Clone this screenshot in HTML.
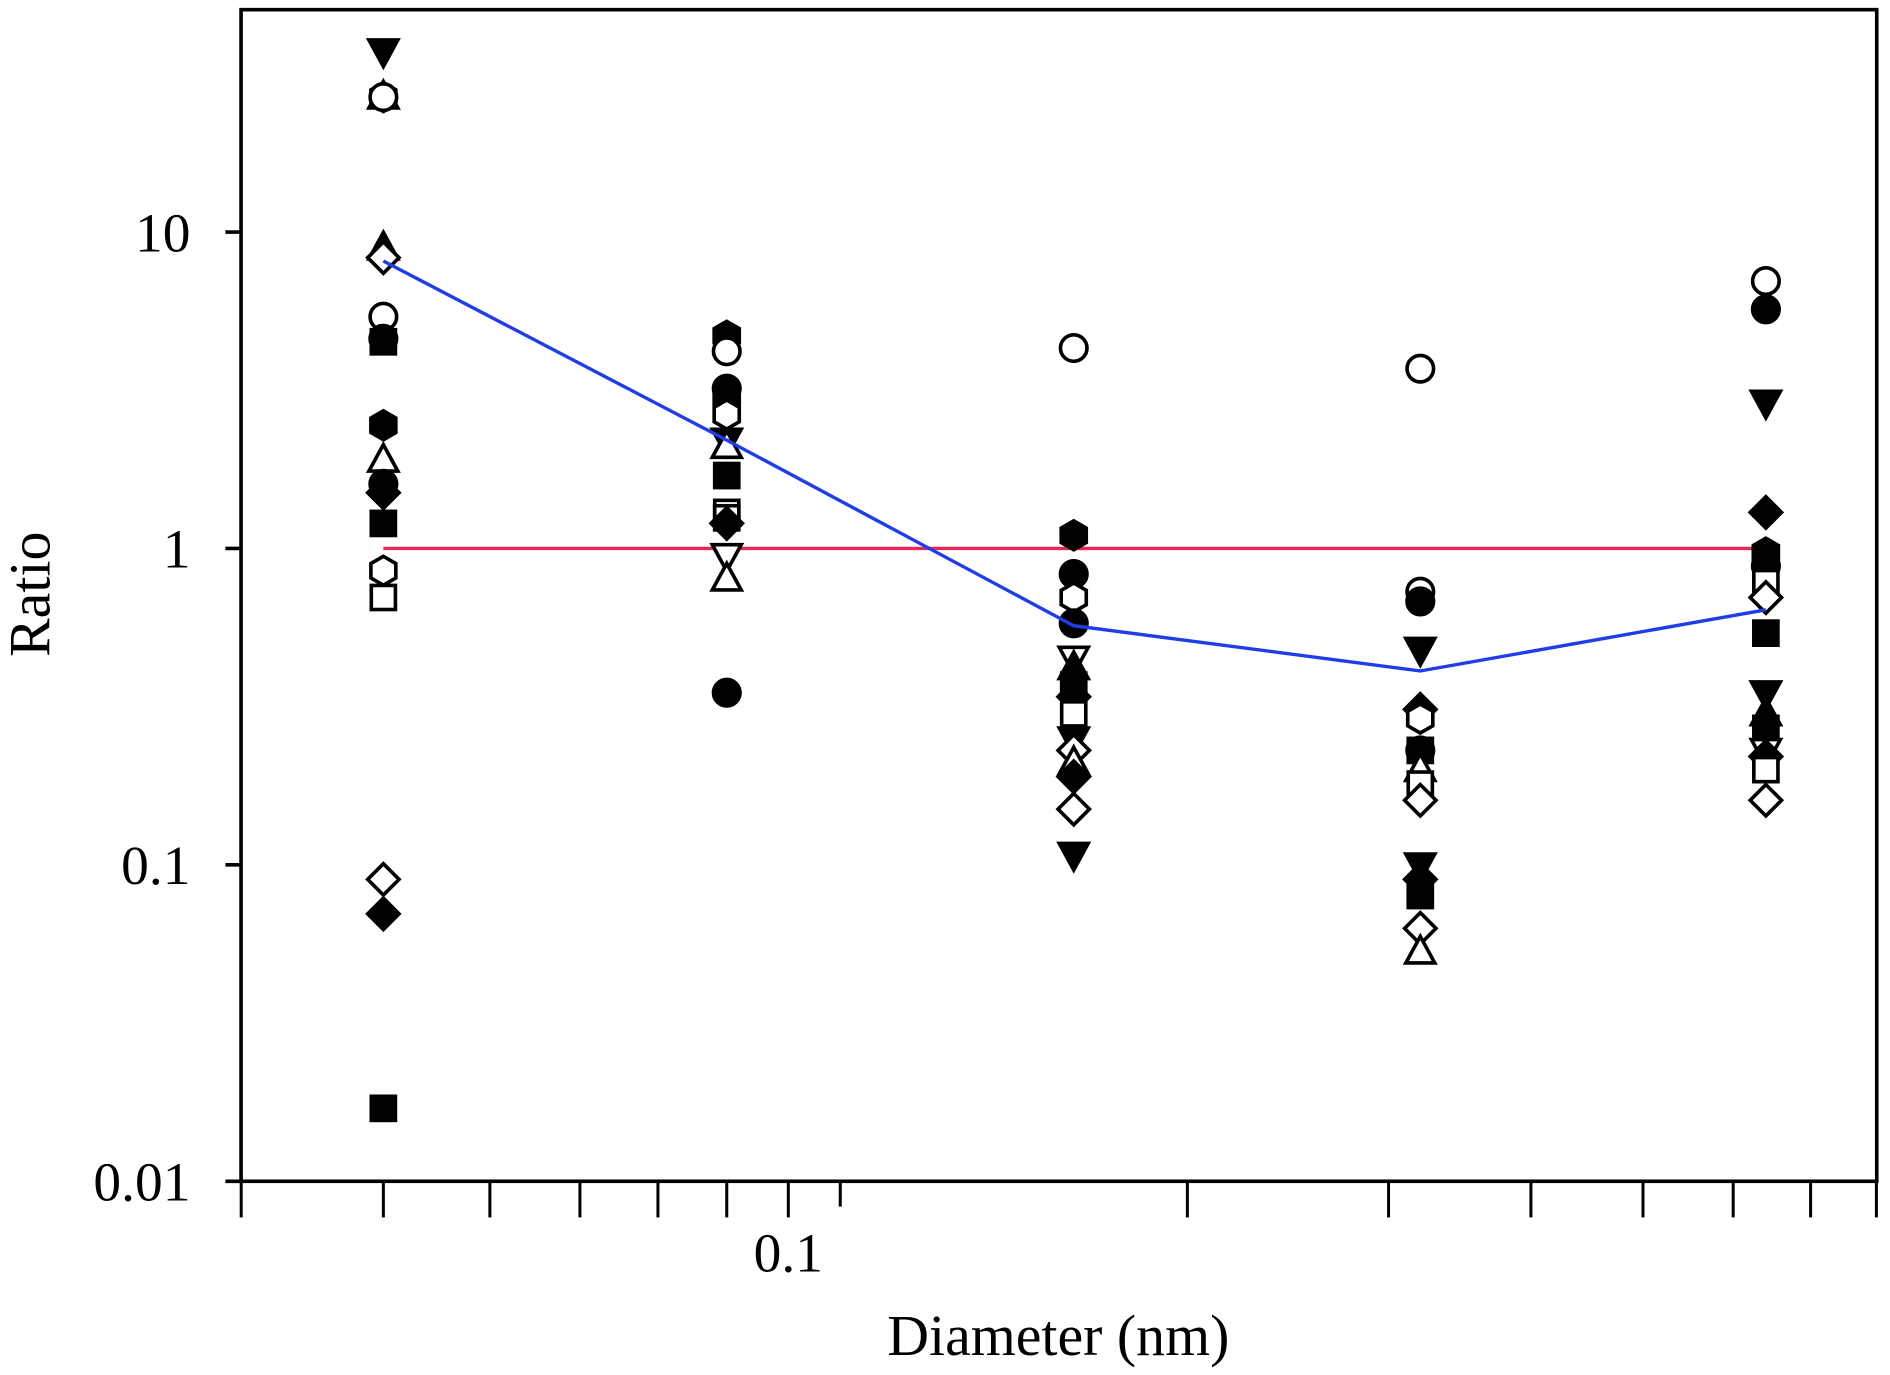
<!DOCTYPE html>
<html><head><meta charset="utf-8"><style>
html,body{margin:0;padding:0;background:#fff;}
svg{display:block;font-family:"Liberation Serif",serif;}
</style></head><body>
<svg id="chart" width="1890" height="1375" viewBox="0 0 1568 1140.7" xmlns="http://www.w3.org/2000/svg">
<g id="marks"></g>
</svg>
<script>
const columns = [0.05, 0.09, 0.163, 0.295, 0.533];
const col1 = [[37.4,'dtri',1],[26.7,'hex',0],[26.7,'tri',0],[26.7,'circle',0],[8.9,'tri',1],[8.3,'diamond',0],[5.4,'circle',0],[4.6,'circle',1],[4.5,'square',1],[2.45,'hex',1],[1.9,'tri',0],[1.6,'circle',1],[1.5,'diamond',1],[1.2,'square',1],[0.85,'hex',0],[0.7,'square',0],[0.09,'diamond',0],[0.07,'diamond',1],[0.017,'square',1]];
const col2 = [[4.7,'hex',1],[4.2,'circle',0],[3.2,'circle',1],[3.0,'hex',1],[2.65,'hex',0],[2.2,'dtri',1],[2.1,'tri',0],[1.7,'square',1],[1.3,'square',0],[1.25,'square',0],[1.2,'diamond',1],[0.95,'dtri',0],[0.8,'tri',0],[0.35,'circle',1]];
const col3 = [[4.3,'circle',0],[1.1,'hex',1],[0.83,'circle',1],[0.7,'hex',0],[0.58,'circle',1],[0.45,'dtri',0],[0.42,'tri',1],[0.37,'square',1],[0.34,'diamond',1],[0.3,'square',0],[0.25,'dtri',1],[0.23,'diamond',0],[0.21,'tri',0],[0.19,'diamond',1],[0.15,'diamond',0],[0.108,'dtri',1]];
const col4 = [[3.7,'circle',0],[0.73,'circle',0],[0.68,'circle',1],[0.48,'dtri',1],[0.31,'diamond',1],[0.29,'hex',0],[0.23,'circle',1],[0.23,'square',1],[0.2,'tri',0],[0.18,'square',0],[0.16,'diamond',0],[0.1,'dtri',1],[0.09,'diamond',1],[0.08,'square',1],[0.063,'diamond',0],[0.053,'tri',0]];
const col5 = [[7.0,'circle',0],[5.7,'circle',1],[2.9,'dtri',1],[1.3,'diamond',1],[0.97,'hex',1],[0.88,'circle',1],[0.78,'square',0],[0.7,'diamond',0],[0.54,'square',1],[0.35,'dtri',1],[0.3,'tri',1],[0.27,'square',1],[0.23,'dtri',0],[0.22,'diamond',1],[0.2,'square',0],[0.16,'diamond',0]];
const meanLine = [8.1, 2.2, 0.57, 0.41, 0.64];
const refLine = [1, 1];
const yTicks = [0.01, 0.1, 1, 10];
const yTickLabels = ['0.01','0.1','1','10'];
const xTicks = [0.0392,0.05,0.06,0.07,0.08,0.09,0.1,0.1093,0.198,0.2794,0.3565,0.4319,0.504,0.5754,0.644];
const xTickLabels = {'0.1':'0.1'};

const L=200,R=1557,T=8,B=980;
const xs = v => 654 + 1116*Math.log10(v/0.1);
const ys = v => 455 - 262.5*Math.log10(v);
const NS='http://www.w3.org/2000/svg';
const g=document.getElementById('marks');
function mk(tag,attrs,parent){const e=document.createElementNS(NS,tag);for(const k in attrs)e.setAttribute(k,attrs[k]);(parent||g).appendChild(e);return e;}

const ref=mk('line',{x1:xs(columns[0]),x2:xs(columns[4]),y1:ys(refLine[0]),y2:ys(refLine[1]),stroke:'#e8285a','stroke-width':2.8});



const all=[col1,col2,col3,col4,col5];
all.forEach((col,ci)=>{
  const cx=xs(columns[ci]);
  col.forEach(p=>{
    const cy=ys(p[0]);const t=p[1];const f=p[2]?'#000':'#fff';
    const st={fill:f,stroke:'#000','stroke-width':3};
    let e;const r=11;
    if(t==='circle') e=mk('circle',Object.assign({cx:cx,cy:cy,r:r},st));
    else if(t==='square') e=mk('rect',Object.assign({x:cx-10,y:cy-10,width:20,height:20},st));
    else if(t==='diamond') e=mk('polygon',Object.assign({points:`${cx},${cy-13} ${cx+13},${cy} ${cx},${cy+13} ${cx-13},${cy}`},st));
    else if(t==='tri') e=mk('polygon',Object.assign({points:`${cx},${cy-13} ${cx+12},${cy+9} ${cx-12},${cy+9}`},st));
    else if(t==='dtri') e=mk('polygon',Object.assign({points:`${cx},${cy+13} ${cx+12},${cy-9} ${cx-12},${cy-9}`},st));
    else { let pts=[];for(let i=0;i<6;i++){const a=Math.PI/3*i+Math.PI/6;pts.push((cx+12*Math.cos(a)).toFixed(1)+','+(cy+12*Math.sin(a)).toFixed(1));} e=mk('polygon',Object.assign({points:pts.join(' ')},st)); }
    
    
  });
});

const pl=mk('polyline',{points:meanLine.map((v,i)=>xs(columns[i])+','+ys(v)).join(' '),fill:'none',stroke:'#1f3de8','stroke-width':2.8});



const fr=mk('rect',{x:L,y:T,width:R-L,height:B-T,fill:'none',stroke:'#000','stroke-width':3});



yTicks.forEach((v,i)=>{
  const y=ys(v);
  const tk=mk('line',{x1:L-13,x2:L,y1:y,y2:y,stroke:'#000','stroke-width':3});
  
  
  const tx=mk('text',{x:L-42,y:y+16,'text-anchor':'end','font-size':46});
  tx.textContent=yTickLabels[i];
  
  
});
xTicks.forEach(v=>{
  const x=xs(v);const short=Math.abs(v-0.1093)<1e-4;
  const tk=mk('line',{x1:x,x2:x,y1:B,y2:B+(short?21:30),stroke:'#000','stroke-width':2.5});
  
  
  if(xTickLabels[String(v)]){
    const tx=mk('text',{x:x,y:1055,'text-anchor':'middle','font-size':46});
    tx.textContent=xTickLabels[String(v)];
    
    
  }
});
const xt=mk('text',{x:878,y:1124,'text-anchor':'middle','font-size':48});
xt.textContent='Diameter (nm)';


const yt=mk('text',{x:0,y:0,'text-anchor':'middle','font-size':48,transform:'translate(41,493) rotate(-90)'});
yt.textContent='Ratio';


</script>
</body></html>
